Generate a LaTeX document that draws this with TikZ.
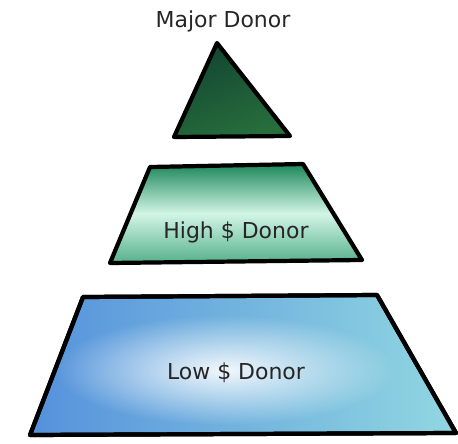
\documentclass[tikz,border=0pt]{standalone}
\usepackage{fontspec}
\setmainfont{DejaVu Sans}
\usetikzlibrary{fadings}
\definecolor{majorgreen}{RGB}{18,70,50}
\definecolor{majorlight}{RGB}{40,110,60}
\definecolor{highgreen}{RGB}{30,150,100}
\definecolor{highlight}{RGB}{210,245,230}
\definecolor{lowblue}{RGB}{85,145,220}
\definecolor{lowcyan}{RGB}{145,215,225}
\tikzfading[name=softspot, inner color=transparent!0, outer color=transparent!100]
\tikzset{
 tier/.style={draw=black, line width=2.4pt, line join=round},
 label/.style={font=\fontsize{12.5}{14}\selectfont, text=black!85}
}
\begin{document}
\begin{tikzpicture}[x=0.02cm, y=-0.02cm]
 \useasboundingbox (0,0) rectangle (458,444);
 % Spitze
 \draw[tier, top color=majorgreen, bottom color=majorlight, shading angle=20]
  (217,43) -- (290,136) -- (174,137) -- cycle;
 \node[label] (major) at (223,21) {Major Donor};

 % mittlere Stufe
 \draw[tier, top color=highgreen!90!black, bottom color=highgreen!75!white, middle color=highlight]
  (150,167) -- (303,164) -- (362,260) -- (110,263) -- cycle;
 \node[label] (high) at (236,232) {High \$ Donor};

 % untere Stufe
 \draw[tier, left color=lowblue, right color=lowcyan]
  (83,297) -- (377,295) -- (456,433) -- (30,435) -- cycle;
 \begin{scope}
  \clip (83,297) -- (377,295) -- (456,433) -- (30,435) -- cycle;
  \fill[white, opacity=0.9, path fading=softspot] (225,370) ellipse (170 and 55);
 \end{scope}
 \draw[tier] (83,297) -- (377,295) -- (456,433) -- (30,435) -- cycle;
 \node[label] (low) at (236,373) {Low \$ Donor};
\end{tikzpicture}
\end{document}
